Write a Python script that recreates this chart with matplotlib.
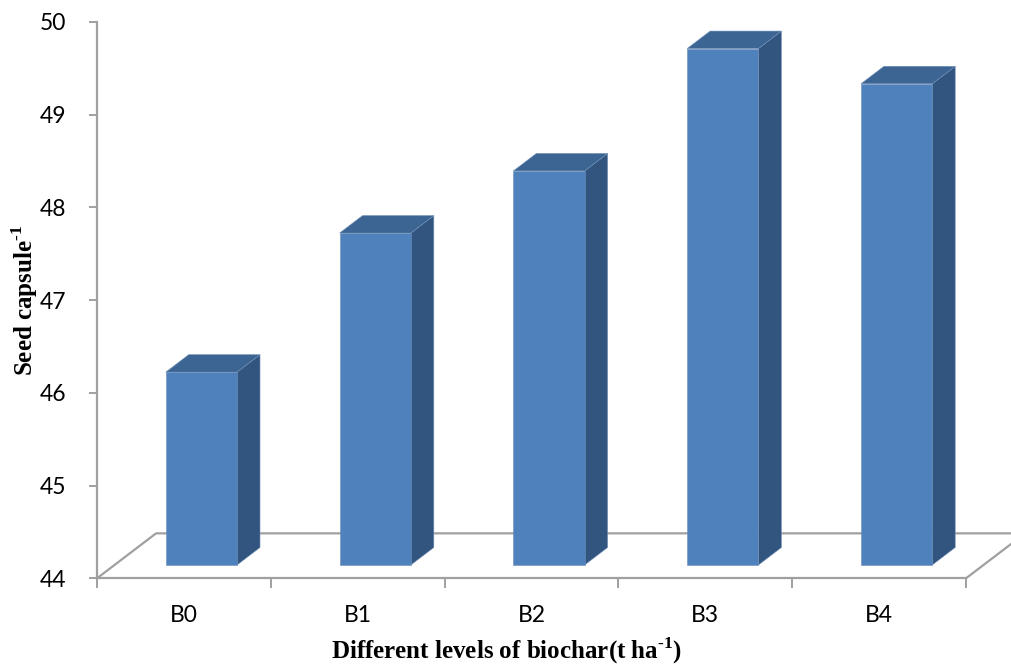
import matplotlib
matplotlib.use("Agg")
import matplotlib.pyplot as plt
from matplotlib.patches import Polygon

plt.rcParams['mathtext.fontset'] = 'custom'
plt.rcParams['mathtext.rm'] = 'Liberation Serif'
plt.rcParams['mathtext.bf'] = 'Liberation Serif:bold'

categories = ['B0', 'B1', 'B2', 'B3', 'B4']
seed_per_capsule = [46.08, 47.58, 48.25, 49.57, 49.19]
y_ticks = [44, 45, 46, 47, 48, 49, 50]

# pseudo-3d geometry (category units / value units)
DX, DY = 0.34, 0.485          # floor depth offset
D0, D1 = 0.296, 0.685         # bar front / back depth as fraction of floor
BAR_L, BAR_R = 0.295, 0.705   # bar extent within a category
BASE = 44

FRONT = '#4f81bd'
TOP = '#3c6593'
SIDE = '#32557f'
GRID = '#a0a0a0'

fig = plt.figure(figsize=(10.12, 6.68), dpi=100)
ax = fig.add_axes([97/1012, (668-578.3)/668, (966-97)/1012, (578.3-22)/668])
ax.set_xlim(0, len(categories))
ax.set_ylim(BASE, 50)


def proj(x, v, d):
    return (x + d*DX, v + d*DY)


# floor outline
n = len(categories)
floor = [proj(0, BASE, 0), proj(0, BASE, 1), proj(n, BASE, 1), proj(n, BASE, 0)]
ax.plot([p[0] for p in floor], [p[1] for p in floor], color=GRID, lw=1.6,
        clip_on=False, zorder=1, solid_capstyle='butt')

for i, v in enumerate(seed_per_capsule):
    x0, x1 = i + BAR_L, i + BAR_R
    front = [proj(x0, BASE, D0), proj(x1, BASE, D0), proj(x1, v, D0), proj(x0, v, D0)]
    side = [proj(x1, BASE, D0), proj(x1, BASE, D1), proj(x1, v, D1), proj(x1, v, D0)]
    top = [proj(x0, v, D0), proj(x1, v, D0), proj(x1, v, D1), proj(x0, v, D1)]
    for pts, c in ((side, SIDE), (top, TOP), (front, FRONT)):
        ax.add_patch(Polygon(pts, closed=True, facecolor=c, edgecolor='#6f8fb8',
                             linewidth=0.4, clip_on=False, zorder=3))

for s in ('top', 'right'):
    ax.spines[s].set_visible(False)
for s in ('left', 'bottom'):
    ax.spines[s].set_color(GRID)
    ax.spines[s].set_linewidth(1.6)
    ax.spines[s].set_zorder(4)

ax.set_yticks(y_ticks)
ax.set_yticklabels([str(t) for t in y_ticks])
ax.set_xticks(range(n + 1))
ax.set_xticklabels([])
ax.set_xticks([i + 0.5 for i in range(n)], minor=True)
ax.set_xticklabels(categories, minor=True)
ax.tick_params(axis='x', which='minor', length=0, pad=19)
ax.tick_params(axis='x', which='major', length=7, width=1.4, color=GRID)
ax.tick_params(axis='y', length=6, width=1.4, color=GRID, pad=16)
for lab in ax.get_yticklabels() + ax.get_xticklabels(minor=True):
    lab.set_fontfamily('Lato')
    lab.set_fontsize(16.5)
    lab.set_color('black')

fig.text(507/1012, 1 - 651/668, 'Different levels of biochar(t ha$^{\\mathbf{\u20101}}$)',
         ha='center', va='center', fontsize=18, fontweight='bold',
         fontfamily='Liberation Serif')
fig.text(25/1012, 1 - 300/668, 'Seed capsule$^{\\mathbf{\u20101}}$', rotation=90,
         ha='center', va='center', fontsize=18, fontweight='bold',
         fontfamily='Liberation Serif')

fig.savefig('out.png', dpi=100)
